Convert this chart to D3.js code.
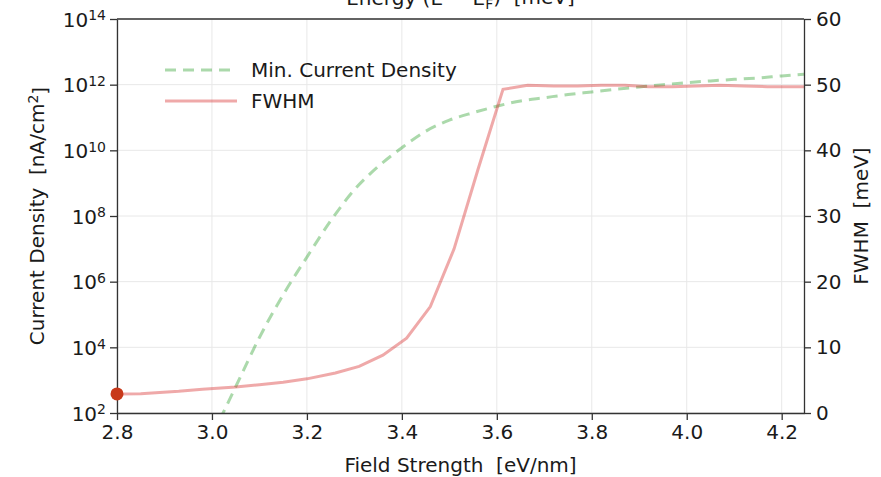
<!DOCTYPE html>
<html>
<head>
<meta charset="utf-8">
<script src="https://cdn.jsdelivr.net/npm/d3@7"></script>
<style>
  body { margin: 0; background: #fff; }
  text { font-family: "DejaVu Sans", sans-serif; fill: #1a1a1a; white-space: pre; }
  .axis path, .axis line { stroke: #333; stroke-width: 1.3; }
  .grid line { stroke: #e8e8e8; stroke-width: 1; }
</style>
</head>
<body>
<div id="chart"></div>
<script>
// Field strength samples [eV/nm] and the two series
const densityField = [3.00, 3.05, 3.10, 3.15, 3.20, 3.25, 3.30, 3.35, 3.40, 3.45, 3.50,
  3.55, 3.60, 3.65, 3.70, 3.75, 3.80, 3.85, 3.90, 3.95, 4.00, 4.05, 4.10, 4.15, 4.20, 4.25];
const minCurrentDensity = [2.0e1, 6.3e2, 2.0e4, 4.0e5, 5.6e6, 7.1e7, 6.3e8, 3.2e9, 1.2e10,
  3.8e10, 8.3e10, 1.4e11, 2.2e11, 3.2e11, 4.0e11, 5.0e11, 6.0e11, 7.2e11, 8.5e11, 1.0e12,
  1.15e12, 1.3e12, 1.45e12, 1.6e12, 1.85e12, 2.1e12];

const fwhmField = [2.80, 2.85, 2.93, 2.98, 3.05, 3.10, 3.15, 3.20, 3.26, 3.31, 3.36, 3.41,
  3.46, 3.51, 3.56, 3.613, 3.665, 3.72, 3.77, 3.82, 3.87, 3.92, 3.97, 4.02, 4.07, 4.12, 4.17, 4.25];
const fwhm = [2.9, 2.95, 3.3, 3.6, 3.95, 4.3, 4.7, 5.2, 6.1, 7.1, 8.8, 11.4, 16.2, 25.0, 37.0,
  49.3, 49.9, 49.8, 49.8, 49.9, 49.9, 49.7, 49.7, 49.8, 49.9, 49.8, 49.7, 49.7];

const xTicks = [2.8, 3.0, 3.2, 3.4, 3.6, 3.8, 4.0, 4.2];
const leftTicks = [2, 4, 6, 8, 10, 12, 14];   // exponents of 10
const rightTicks = [0, 10, 20, 30, 40, 50, 60];

const W = 881, H = 477;
const margin = { top: 19, right: 77, bottom: 64, left: 117 };
const width = W - margin.left - margin.right;
const height = H - margin.top - margin.bottom;
const fs = 20;

const svg = d3.select("#chart").append("svg")
  .attr("width", W).attr("height", H);

const g = svg.append("g")
  .attr("transform", "translate(" + margin.left + "," + margin.top + ")");

const x = d3.scaleLinear().domain([2.8, 4.247]).range([0, width]);
const yL = d3.scaleLog().domain([1e2, 1e14]).range([height, 0]);
const yR = d3.scaleLinear().domain([0, 60]).range([height, 0]);

// grid
const grid = g.append("g").attr("class", "grid");
grid.selectAll(".gx").data(xTicks).enter().append("line")
  .attr("x1", d => x(d)).attr("x2", d => x(d)).attr("y1", 0).attr("y2", height);
grid.selectAll(".gy").data(leftTicks).enter().append("line")
  .attr("x1", 0).attr("x2", width)
  .attr("y1", d => yL(Math.pow(10, d))).attr("y2", d => yL(Math.pow(10, d)));

// clip for the data lines
svg.append("defs").append("clipPath").attr("id", "plot-clip")
  .append("rect").attr("width", width).attr("height", height);

const plot = g.append("g").attr("clip-path", "url(#plot-clip)");

const densityLine = d3.line()
  .x((d, i) => x(densityField[i]))
  .y(d => yL(d))
  .curve(d3.curveMonotoneX);

plot.append("path")
  .datum(minCurrentDensity)
  .attr("fill", "none")
  .attr("stroke", "#2ca02c")
  .attr("stroke-opacity", 0.4)
  .attr("stroke-width", 3)
  .attr("stroke-dasharray", "11,7")
  .attr("d", densityLine);

const fwhmLine = d3.line()
  .x((d, i) => x(fwhmField[i]))
  .y(d => yR(d));

plot.append("path")
  .datum(fwhm)
  .attr("fill", "none")
  .attr("stroke", "#d62728")
  .attr("stroke-opacity", 0.4)
  .attr("stroke-width", 3)
  .attr("d", fwhmLine);

// axes
const xAxis = g.append("g").attr("class", "axis")
  .attr("transform", "translate(0," + height + ")")
  .call(d3.axisBottom(x).tickValues(xTicks).tickFormat(d3.format(".1f"))
    .tickSize(7).tickPadding(5).tickSizeOuter(0));
xAxis.selectAll("text").style("font-size", fs + "px");

const yAxisL = g.append("g").attr("class", "axis")
  .call(d3.axisLeft(yL).tickValues(leftTicks.map(e => Math.pow(10, e)))
    .tickFormat("").tickSize(7).tickSizeOuter(0));
yAxisL.selectAll(".tick").each(function (d) {
  const t = d3.select(this).append("text")
    .attr("x", -11).attr("dy", "0.35em")
    .attr("text-anchor", "end")
    .style("font-size", fs + "px");
  t.append("tspan").text("10");
  t.append("tspan").attr("dy", "-0.45em").style("font-size", (fs * 0.7) + "px")
    .text(Math.round(Math.log10(d)));
});

const yAxisR = g.append("g").attr("class", "axis")
  .attr("transform", "translate(" + width + ",0)")
  .call(d3.axisRight(yR).tickValues(rightTicks).tickSize(7).tickPadding(5).tickSizeOuter(0));
yAxisR.selectAll("text").style("font-size", fs + "px");

// top spine
g.append("line").attr("x1", 0).attr("x2", width).attr("y1", 0).attr("y2", 0)
  .attr("stroke", "#333").attr("stroke-width", 1.3);

// marker at the first FWHM point
g.append("circle")
  .attr("cx", x(fwhmField[0])).attr("cy", yR(fwhm[0]))
  .attr("r", 6.5).attr("fill", "#c8391a");

// axis titles
svg.append("text")
  .attr("x", margin.left + width / 2).attr("y", 472)
  .attr("text-anchor", "middle").style("font-size", fs + "px")
  .text("Field Strength  [eV/nm]");

// top title sits mostly above the page edge, as in the original
const topTitle = svg.append("text")
  .attr("x", margin.left + width / 2).attr("y", 5)
  .attr("text-anchor", "middle").style("font-size", fs + "px");
topTitle.append("tspan").text("Energy (E − E");
topTitle.append("tspan").attr("dy", "0.25em").style("font-size", (fs * 0.7) + "px").text("F");
topTitle.append("tspan").attr("dy", "-0.25em").text(")  [meV]");

const leftTitle = svg.append("text")
  .attr("transform", "translate(44," + (margin.top + height / 2) + ") rotate(-90)")
  .attr("text-anchor", "middle").style("font-size", fs + "px");
leftTitle.append("tspan").text("Current Density  [nA/cm");
leftTitle.append("tspan").attr("dy", "-0.45em").style("font-size", (fs * 0.7) + "px").text("2");
leftTitle.append("tspan").attr("dy", "0.45em").text("]");

svg.append("text")
  .attr("transform", "translate(868," + (margin.top + height / 2) + ") rotate(-90)")
  .attr("text-anchor", "middle").style("font-size", fs + "px")
  .text("FWHM  [meV]");

// legend
const legend = svg.append("g").attr("class", "legend");
const legendItems = [
  { label: "Min. Current Density", color: "#2ca02c", dash: "11,7" },
  { label: "FWHM", color: "#d62728", dash: null }
];
legendItems.forEach((item, i) => {
  const yy = 70 + i * 31;
  legend.append("line")
    .attr("x1", 165).attr("x2", 237).attr("y1", yy).attr("y2", yy)
    .attr("stroke", item.color).attr("stroke-opacity", 0.4)
    .attr("stroke-width", 3).attr("stroke-dasharray", item.dash);
  legend.append("text")
    .attr("x", 251).attr("y", yy).attr("dy", "0.35em")
    .style("font-size", fs + "px")
    .text(item.label);
});
</script>
</body>
</html>
